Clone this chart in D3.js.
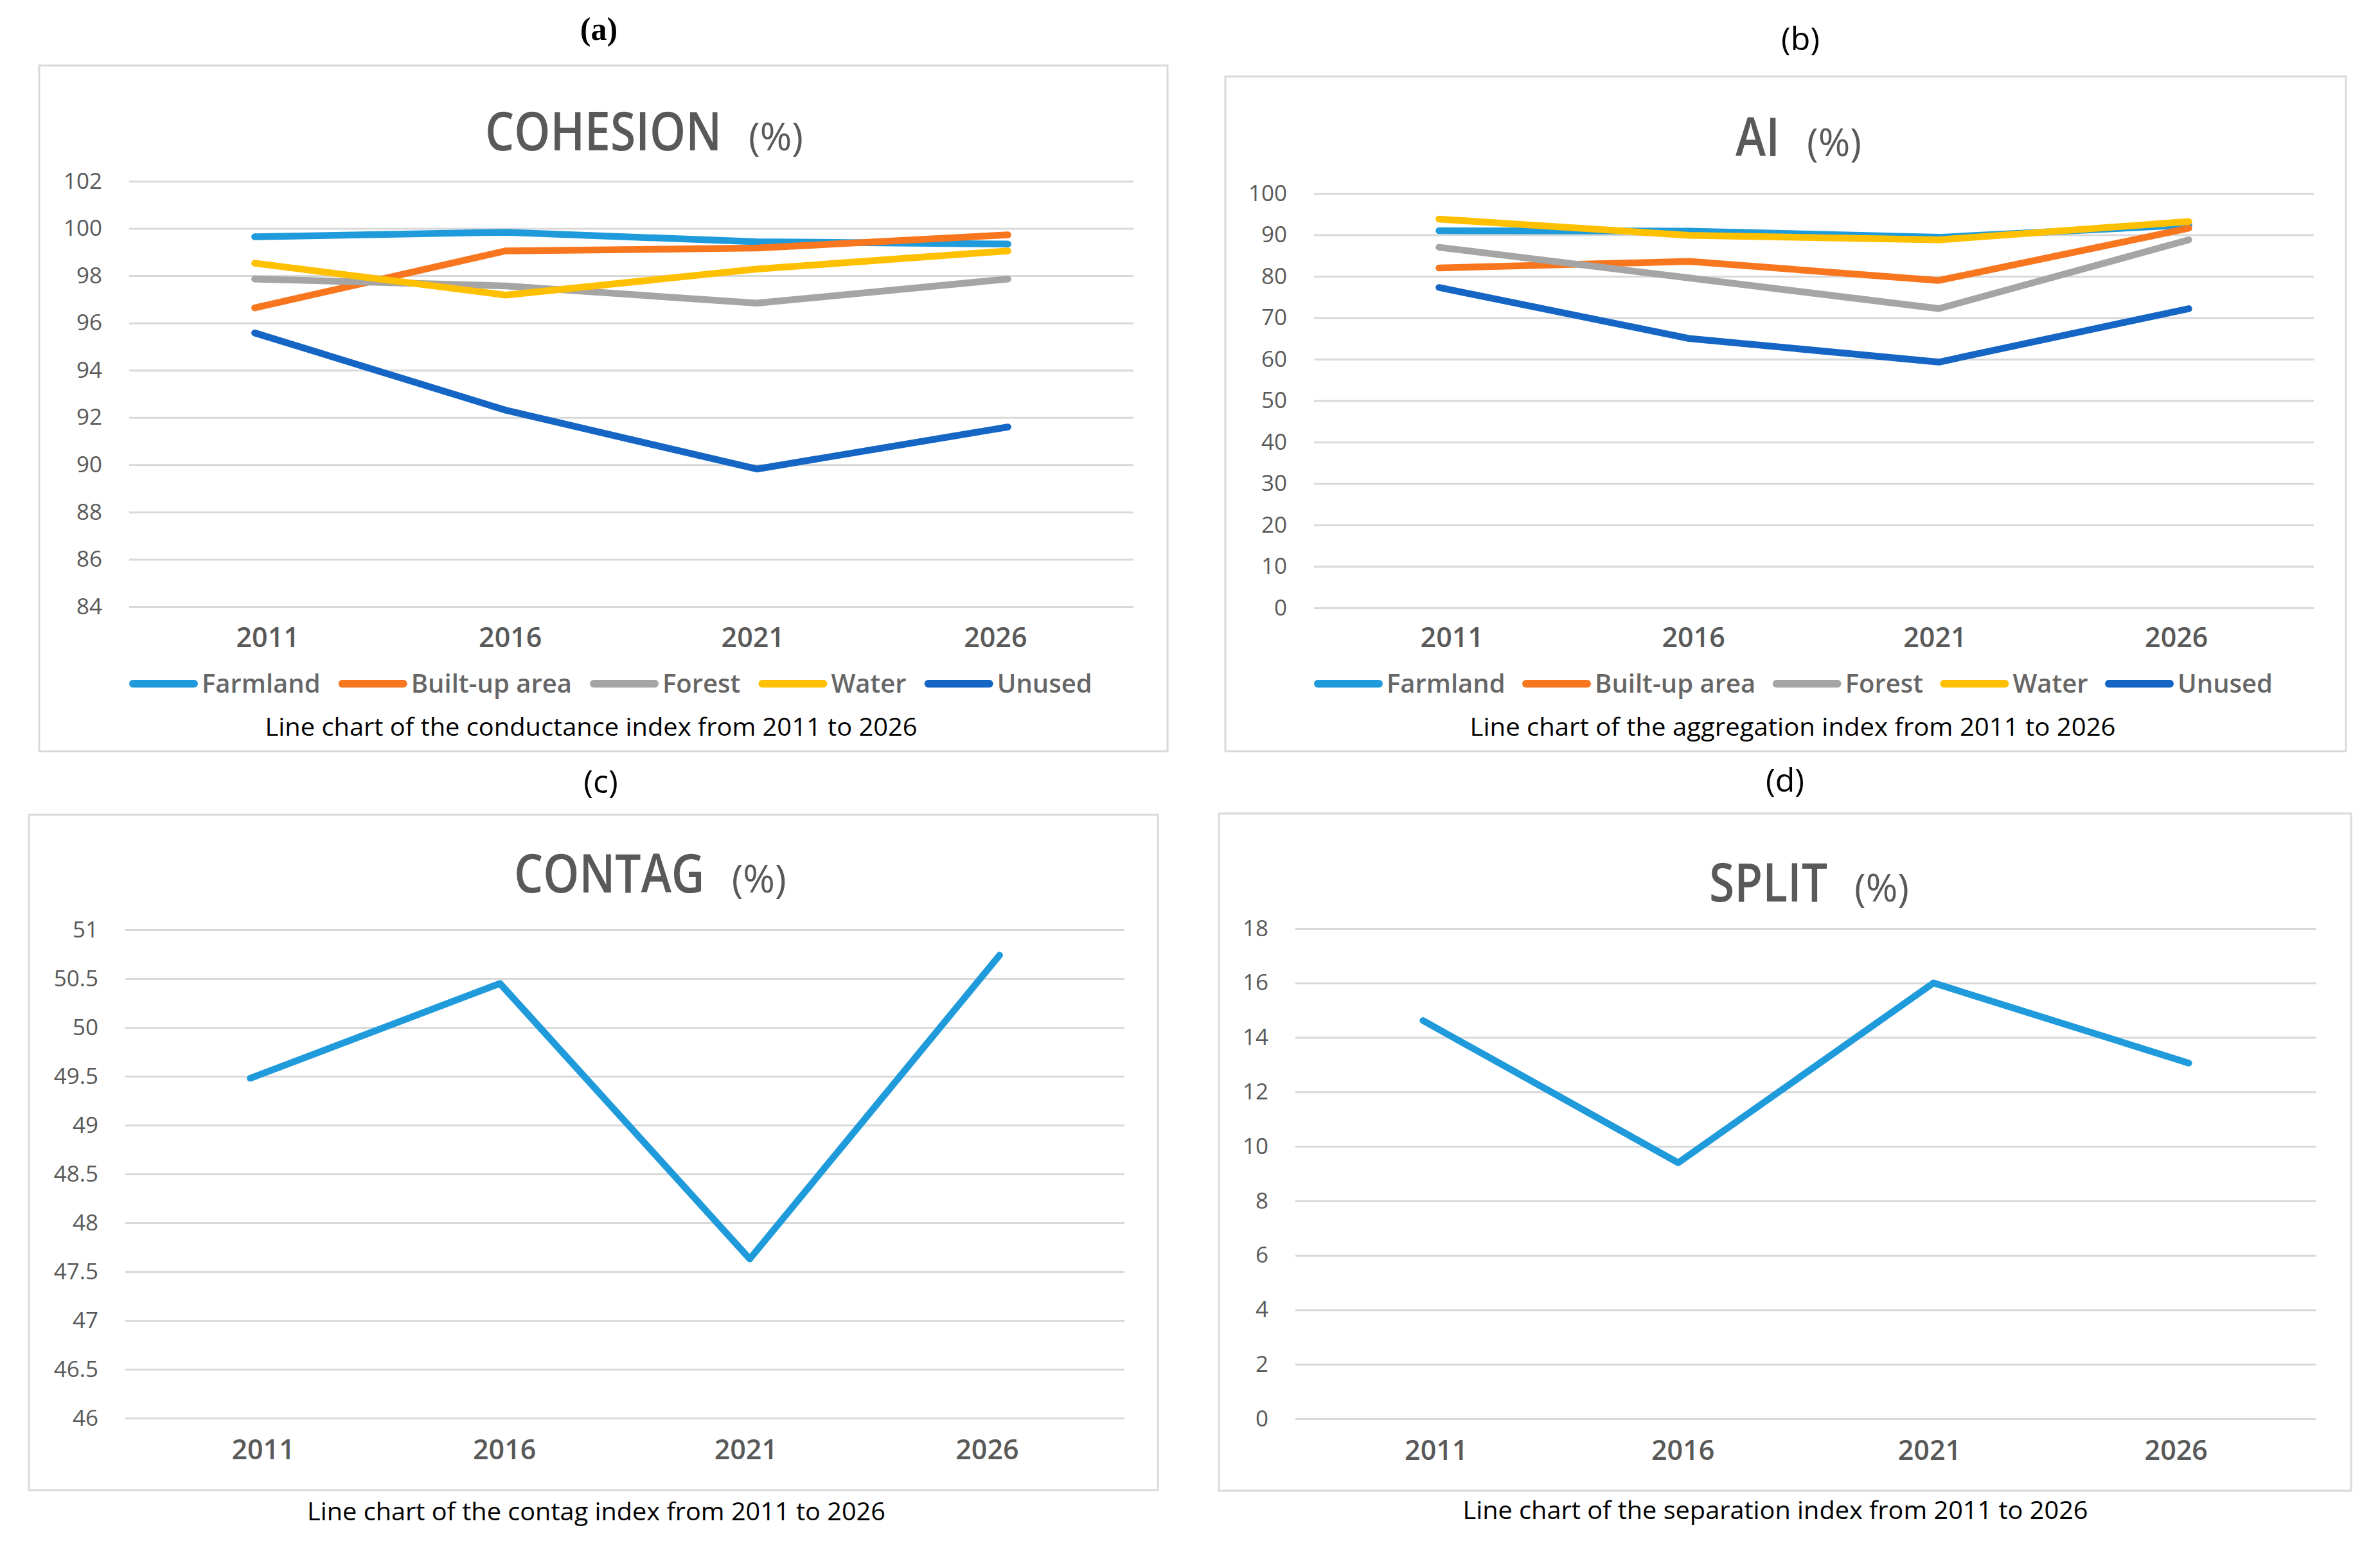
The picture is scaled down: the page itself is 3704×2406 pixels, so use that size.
<!DOCTYPE html>
<html>
<head>
<meta charset="utf-8">
<script src="https://cdn.jsdelivr.net/npm/d3@7"></script>
<style>
  body { margin: 0; background: #fff; }
  svg { display: block; }
</style>
</head>
<body>
<div id="container"></div>
<script>
// Chart data
const years = ["2011", "2016", "2021", "2026"];
const landTypes = ["Farmland", "Built-up area", "Forest", "Water", "Unused"];
const landColors = ["#1f9bdb", "#f8761e", "#a5a5a5", "#ffc000", "#1565c4"];

// (a) COHESION, one row per land type
const cohesion = [
  [99.65, 99.84, 99.44, 99.34],
  [96.64, 99.05, 99.17, 99.73],
  [97.86, 97.57, 96.84, 97.86],
  [98.53, 97.18, 98.28, 99.05],
  [95.58, 92.31, 89.82, 91.60]
];
const cohesionTicks = [84, 86, 88, 90, 92, 94, 96, 98, 100, 102];

// (b) AI
const aggregation = [
  [91.0, 90.9, 89.4, 92.4],
  [82.0, 83.6, 79.0, 91.6],
  [87.0, 79.6, 72.2, 88.8],
  [93.8, 89.9, 88.8, 93.2],
  [77.3, 65.0, 59.3, 72.2]
];
const aggregationTicks = [0, 10, 20, 30, 40, 50, 60, 70, 80, 90, 100];

// (c) CONTAG
const contag = [49.48, 50.45, 47.63, 50.74];
const contagTicks = [46, 46.5, 47, 47.5, 48, 48.5, 49, 49.5, 50, 50.5, 51];

// (d) SPLIT
const split = [14.62, 9.4, 16.0, 13.06];
const splitTicks = [0, 2, 4, 6, 8, 10, 12, 14, 16, 18];

const W = 3704, H = 2406;
const font = "'Open Sans', 'Noto Sans', sans-serif";
const grey = "#595959";

const svg = d3.select("#container")
  .append("svg")
  .attr("width", W)
  .attr("height", H)
  .style("background", "#fff");

// panel layouts (pixels)
const panels = [
  {
    label: "(a)", labelFont: "'Liberation Serif', serif", labelWeight: 700, labelX: 932, labelY: 62,
    box: [61, 102, 1817, 1169], plot: [201, 282, 1764, 944],
    title: "COHESION", titleX: 755, titleY: 234,
    ticks: cohesionTicks, series: cohesion, xLabelY: 32,
    legendY: 1064,
    caption: "Line chart of the conductance index from 2011 to 2026", captionX: 920, captionY: 1145, captionW: 1015
  },
  {
    label: "(b)", labelFont: font, labelWeight: 400, labelX: 2802, labelY: 78,
    box: [1907, 119, 3651, 1169], plot: [2045, 301, 3601, 946],
    title: "AI", titleX: 2701, titleY: 243,
    ticks: aggregationTicks, series: aggregation, xLabelY: 30,
    legendY: 1064,
    caption: "Line chart of the aggregation index from 2011 to 2026", captionX: 2790, captionY: 1145, captionW: 1005
  },
  {
    label: "(c)", labelFont: font, labelWeight: 400, labelX: 935, labelY: 1234,
    box: [45, 1268, 1802, 2319], plot: [195, 1447, 1750, 2207],
    title: "CONTAG", titleX: 800, titleY: 1389,
    ticks: contagTicks, series: [contag], xLabelY: 33,
    caption: "Line chart of the contag index from 2011 to 2026", captionX: 928, captionY: 2366, captionW: 900
  },
  {
    label: "(d)", labelFont: font, labelWeight: 400, labelX: 2778, labelY: 1232,
    box: [1897, 1266, 3659, 2320], plot: [2016, 1445, 3605, 2208],
    title: "SPLIT", titleX: 2660, titleY: 1403,
    ticks: splitTicks, series: [split], xLabelY: 33,
    caption: "Line chart of the separation index from 2011 to 2026", captionX: 2763, captionY: 2364, captionW: 973
  }
];

panels.forEach(p => {
  const [bx0, by0, bx1, by1] = p.box;
  const [px0, py0, px1, py1] = p.plot;

  // panel letter
  svg.append("text")
    .attr("x", p.labelX)
    .attr("y", p.labelY)
    .attr("text-anchor", "middle")
    .attr("font-family", p.labelFont)
    .attr("font-weight", p.labelWeight)
    .attr("font-size", 50)
    .attr("fill", "#000")
    .text(p.label);

  // chart frame
  svg.append("rect")
    .attr("x", bx0).attr("y", by0)
    .attr("width", bx1 - bx0).attr("height", by1 - by0)
    .attr("fill", "#fff")
    .attr("stroke", "#d9d9d9")
    .attr("stroke-width", 3);

  // title: big narrow word plus lighter (%)
  const squeeze = 0.85;
  const tg = svg.append("g")
    .attr("transform", `translate(${p.titleX},${p.titleY}) scale(${squeeze},1)`);
  const t = tg.append("text")
    .attr("font-family", font)
    .attr("font-weight", 600)
    .attr("font-size", 84)
    .attr("fill", grey)
    .text(p.title);
  const tw = t.node().getComputedTextLength() * squeeze;
  svg.append("text")
    .attr("x", p.titleX + tw + 42)
    .attr("y", p.titleY)
    .attr("font-family", font)
    .attr("font-weight", 400)
    .attr("font-size", 60)
    .attr("fill", grey)
    .text("(%)");

  const x = d3.scaleBand().domain(years).range([px0, px1]);
  // Excel draws the category labels a little closer together than the points
  const xLab = d3.scalePoint().domain(years).range([px0, px1]).padding(0.57);
  const y = d3.scaleLinear().domain(d3.extent(p.ticks)).range([py1, py0]);

  // y axis with gridlines
  const gy = svg.append("g")
    .attr("transform", `translate(${px0},0)`)
    .call(d3.axisLeft(y).tickValues(p.ticks).tickSize(-(px1 - px0)).tickPadding(42).tickFormat(d => d));
  gy.select(".domain").remove();
  gy.selectAll(".tick line").attr("stroke", "#d9d9d9").attr("stroke-width", 3);
  gy.selectAll(".tick text")
    .attr("font-family", font)
    .attr("font-size", 35)
    .attr("fill", grey);

  // x axis labels
  const gx = svg.append("g")
    .attr("transform", `translate(0,${py1})`)
    .call(d3.axisBottom(xLab).tickSize(0).tickPadding(p.xLabelY));
  gx.select(".domain").remove();
  gx.selectAll(".tick text")
    .attr("font-family", font)
    .attr("font-size", 43)
    .attr("font-weight", 600)
    .attr("fill", grey);

  // lines
  const line = d3.line()
    .x((d, i) => x(years[i]) + x.bandwidth() / 2)
    .y(d => y(d));
  svg.append("g")
    .selectAll("path")
    .data(p.series)
    .join("path")
    .attr("d", d => line(d))
    .attr("fill", "none")
    .attr("stroke", (d, i) => landColors[i])
    .attr("stroke-width", 10.5)
    .attr("stroke-linecap", "round")
    .attr("stroke-linejoin", "round");

  // legend (only the multi-series panels)
  if (p.legendY) {
    const lineLen = 95, gapText = 12;
    const legend = svg.append("g");
    const items = legend.selectAll("g")
      .data(landTypes)
      .join("g");
    items.append("line")
      .attr("x1", 0).attr("x2", lineLen)
      .attr("y1", p.legendY).attr("y2", p.legendY)
      .attr("stroke", (d, i) => landColors[i])
      .attr("stroke-width", 12)
      .attr("stroke-linecap", "round");
    items.append("text")
      .attr("x", lineLen + gapText)
      .attr("y", p.legendY + 14)
      .attr("font-family", font)
      .attr("font-size", 40)
      .attr("font-weight", 600)
      .attr("fill", "#666")
      .text(d => d);
    // spread items so the legend runs the width seen in the chart
    const widths = items.nodes().map(n => n.getBBox().width);
    const total = (px1 - px0) * 0.955;
    const gap = (total - d3.sum(widths)) / (widths.length - 1);
    let cx = px0 + 6;
    items.attr("transform", (d, i) => {
      const tr = `translate(${cx},0)`;
      cx += widths[i] + gap;
      return tr;
    });
  }

  // caption
  svg.append("text")
    .attr("x", p.captionX)
    .attr("y", p.captionY)
    .attr("text-anchor", "middle")
    .attr("font-family", font)
    .attr("font-size", 38)
    .attr("fill", "#000")
    .attr("textLength", p.captionW)
    .attr("lengthAdjust", "spacingAndGlyphs")
    .text(p.caption);
});
</script>
</body>
</html>
